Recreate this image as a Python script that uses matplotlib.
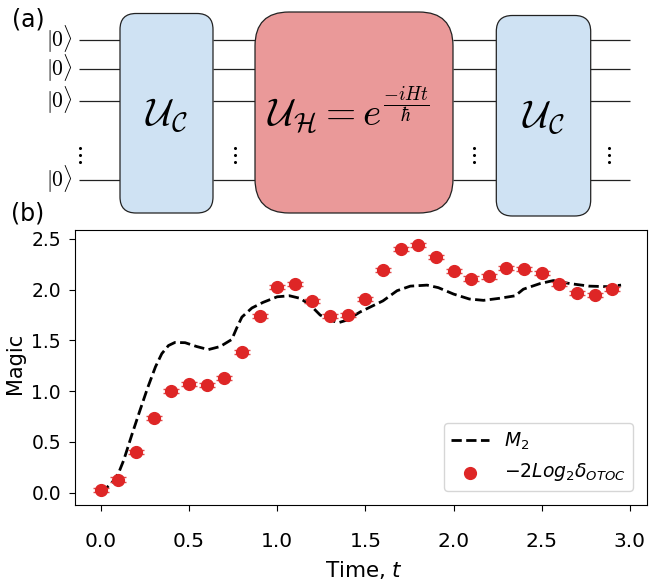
import numpy as np
import matplotlib
matplotlib.use('Agg')
import matplotlib.pyplot as plt
from matplotlib.patches import FancyBboxPatch

# measured values
t_otoc = [0.0, 0.1, 0.2, 0.3, 0.4, 0.5, 0.6, 0.7, 0.8, 0.9, 1.0, 1.1, 1.2, 1.3, 1.4,
          1.5, 1.6, 1.7, 1.8, 1.9, 2.0, 2.1, 2.2, 2.3, 2.4, 2.5, 2.6, 2.7, 2.8, 2.9]
otoc = [0.03, 0.13, 0.40, 0.74, 1.00, 1.07, 1.06, 1.13, 1.39, 1.74, 2.03, 2.06, 1.89, 1.74, 1.75,
        1.91, 2.19, 2.40, 2.44, 2.32, 2.18, 2.11, 2.13, 2.21, 2.20, 2.16, 2.06, 1.97, 1.95, 2.01]
otoc_err = [0.02] * 30

t_m2 = [0.0, 0.06, 0.10, 0.13, 0.176, 0.22, 0.265, 0.31, 0.346, 0.384, 0.42, 0.478, 0.544, 0.61,
        0.677, 0.743, 0.77, 0.80, 0.857, 0.92, 1.0, 1.07, 1.13, 1.187, 1.244, 1.30, 1.348, 1.395,
        1.47, 1.60, 1.68, 1.755, 1.85, 1.914, 2.0, 2.09, 2.17, 2.26, 2.35, 2.396, 2.49, 2.566,
        2.66, 2.77, 2.87, 2.95]
m2 = [0.0, 0.09, 0.19, 0.32, 0.57, 0.80, 1.03, 1.24, 1.37, 1.45, 1.48, 1.478, 1.44, 1.41,
      1.44, 1.51, 1.62, 1.73, 1.82, 1.875, 1.93, 1.94, 1.915, 1.85, 1.75, 1.70, 1.675, 1.70,
      1.78, 1.89, 1.99, 2.035, 2.045, 2.02, 1.957, 1.908, 1.895, 1.915, 1.94, 2.005, 2.06, 2.09,
      2.06, 2.035, 2.03, 2.045]

x_ticks = [0.0, 0.5, 1.0, 1.5, 2.0, 2.5, 3.0]
y_ticks = [0.0, 0.5, 1.0, 1.5, 2.0, 2.5]

# circuit sketch, in figure pixels
wire_y = [39.5, 69, 101, 179.7]
wire_spans = [(79, 120), (213, 255), (453, 496), (590, 630)]
dots_x = [79.5, 235, 473.7, 609]
boxes = [(120, 13.5, 93, 199.5, 16, '#cfe2f3'),
         (255, 12, 198, 201, 34, '#ea9999'),
         (496.3, 15.5, 94.4, 200.5, 16, '#cfe2f3')]

W, H = 662, 580
fig = plt.figure(figsize=(W / 100, H / 100), dpi=100)

top = fig.add_axes([0, 0, 1, 1])
top.set_xlim(0, W)
top.set_ylim(H, 0)
top.axis('off')

for y in wire_y:
    for x0, x1 in wire_spans:
        top.plot([x0, x1], [y, y], color='#222222', lw=0.9, solid_capstyle='butt', zorder=1)
for x, y, w, h, r, c in boxes:
    top.add_patch(FancyBboxPatch((x, y), w, h, boxstyle='round,pad=0,rounding_size=%g' % r,
                                 fc=c, ec='#222222', lw=0.9, zorder=2))
for x in dots_x:
    top.plot([x, x, x], [147.7, 155, 161.7], ls='none', marker='o', ms=1.2, color='k', zorder=2)
for y in wire_y:
    top.text(59, y - 0.5, r'$|0\rangle$', fontsize=15.5, ha='center', va='center', math_fontfamily='cm')

top.text(166.5, 116, r'$\mathcal{U}_{\mathcal{C}}$', fontsize=28, ha='center', va='center', math_fontfamily='cm')
top.text(543.5, 118, r'$\mathcal{U}_{\mathcal{C}}$', fontsize=28, ha='center', va='center', math_fontfamily='cm')
top.text(348, 110, r'$\mathcal{U}_{\mathcal{H}} = e^{\frac{-iHt}{\hbar}}$', fontsize=28,
         ha='center', va='center', math_fontfamily='cm')
top.text(12, 20, '(a)', fontsize=17, ha='left', va='center')
top.text(11, 213, '(b)', fontsize=17, ha='left', va='center')

ax = fig.add_axes([74.5 / W, 1 - 505 / H, (647 - 74.5) / W, (505 - 230) / H])
ax.plot(t_m2, m2, color='k', ls='--', lw=2, label=r'$M_2$', zorder=2)
ax.errorbar(t_otoc, otoc, yerr=otoc_err, fmt='none', ecolor='#e04848', capsize=5.5, elinewidth=1, zorder=3)
ax.scatter(t_otoc, otoc, s=72, color='#de2626', label=r'$-2Log_2\delta_{OTOC}$', zorder=4)
ax.set_xlim(-0.149, 3.097)
ax.set_ylim(-0.121, 2.588)
ax.set_xticks(x_ticks)
ax.set_yticks(y_ticks)
ax.tick_params(axis='x', labelsize=14.5, length=4.3, pad=15)
ax.tick_params(axis='y', labelsize=13.5, length=4, pad=5.8)
ax.set_xlabel(r'Time, $t$', fontsize=15.5)
ax.xaxis.set_label_coords(0.506, -0.197)
ax.set_ylabel('Magic', fontsize=15)
ax.yaxis.set_label_coords(-0.087, 0.515)
ax.legend(loc='lower right', fontsize=13.5, bbox_to_anchor=(0.9755, 0.051), borderaxespad=0)

fig.savefig('out.png', dpi=100)
